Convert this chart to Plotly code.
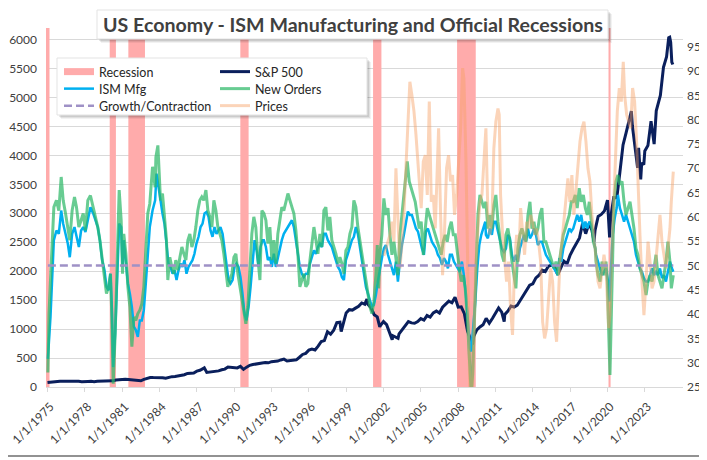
import pandas as pd
import plotly.graph_objects as go

# data (decimal years -> values)
rec_start = ['1974-11-01', '1980-01-01', '1981-07-01', '1990-07-01', '2001-03-01', '2007-12-01', '2020-02-01']
rec_end = ['1975-03-01', '1980-07-01', '1982-11-01', '1991-03-01', '2001-11-01', '2009-06-01', '2020-04-01']
growth_level = 50

sp_year = [1975.0, 1975.25, 1975.5, 1975.75, 1976.0, 1976.25, 1976.5, 1976.75, 1977.0, 1977.25, 1977.5, 1977.75,
           1978.0, 1978.25, 1978.5, 1978.75, 1979.0, 1979.25, 1979.5, 1979.75, 1980.0, 1980.25, 1980.5, 1980.75,
           1981.0, 1981.25, 1981.5, 1981.75, 1982.0, 1982.25, 1982.5, 1982.75, 1983.0, 1983.25, 1983.5, 1983.75,
           1984.0, 1984.25, 1984.5, 1984.75, 1985.0, 1985.25, 1985.5, 1985.75, 1986.0, 1986.25, 1986.5, 1986.75,
           1987.0, 1987.25, 1987.5, 1987.6, 1987.8, 1988.0, 1988.25, 1988.5, 1988.75, 1989.0, 1989.25, 1989.5, 1989.75,
           1990.0, 1990.25, 1990.5, 1990.75, 1991.0, 1991.25, 1991.5, 1991.75, 1992.0, 1992.25, 1992.5, 1992.75,
           1993.0, 1993.25, 1993.5, 1993.75, 1994.0, 1994.25, 1994.5, 1994.75, 1995.0, 1995.25, 1995.5, 1995.75,
           1996.0, 1996.25, 1996.5, 1996.75, 1997.0, 1997.25, 1997.5, 1997.75, 1998.0, 1998.25, 1998.5, 1998.6, 1998.75,
           1999.0, 1999.25, 1999.5, 1999.75, 2000.0, 2000.25, 2000.5, 2000.67, 2000.75, 2001.0, 2001.25, 2001.5, 2001.7, 2001.75,
           2002.0, 2002.25, 2002.5, 2002.7, 2002.75, 2003.0, 2003.17, 2003.25, 2003.5, 2003.75,
           2004.0, 2004.25, 2004.5, 2004.75, 2005.0, 2005.25, 2005.5, 2005.75, 2006.0, 2006.25, 2006.5, 2006.75,
           2007.0, 2007.25, 2007.5, 2007.75, 2008.0, 2008.25, 2008.5, 2008.75, 2009.0, 2009.15, 2009.25, 2009.5, 2009.75,
           2010.0, 2010.25, 2010.5, 2010.75, 2011.0, 2011.25, 2011.5, 2011.7, 2011.75, 2012.0, 2012.25, 2012.5, 2012.75,
           2013.0, 2013.25, 2013.5, 2013.75, 2014.0, 2014.25, 2014.5, 2014.75, 2015.0, 2015.25, 2015.5, 2015.75,
           2016.0, 2016.25, 2016.5, 2016.75, 2017.0, 2017.25, 2017.5, 2017.75, 2018.0, 2018.25, 2018.5, 2018.75, 2018.92,
           2019.0, 2019.25, 2019.5, 2019.75, 2020.0, 2020.17, 2020.25, 2020.5, 2020.75,
           2021.0, 2021.25, 2021.5, 2021.75, 2021.92, 2022.0, 2022.25, 2022.42, 2022.5, 2022.67, 2022.75, 2022.92,
           2023.0, 2023.25, 2023.5, 2023.75, 2023.92, 2024.0, 2024.25, 2024.5, 2024.75, 2024.92,
           2025.0, 2025.08, 2025.17, 2025.25]
sp_val = [77, 85, 89, 89, 101, 101, 103, 102, 102, 98, 99, 92,
          89, 97, 100, 93, 100, 101, 103, 101, 114, 106, 121, 127,
          130, 132, 131, 122, 120, 116, 107, 133, 145, 164, 162, 163,
          163, 160, 150, 166, 179, 180, 190, 189, 212, 235, 236, 243,
          274, 288, 318, 330, 252, 257, 261, 272, 278, 297, 309, 346, 340,
          329, 330, 356, 304, 343, 375, 387, 392, 409, 414, 424, 418,
          438, 440, 448, 467, 481, 450, 458, 472, 470, 514, 562, 581,
          636, 654, 639, 705, 786, 801, 954, 914, 980, 1111, 1120, 957, 1098,
          1279, 1335, 1328, 1362, 1394, 1452, 1430, 1517, 1429, 1366, 1249, 1211, 1040, 1059,
          1130, 1077, 912, 815, 885, 856, 841, 916, 990, 1050,
          1131, 1107, 1101, 1130, 1181, 1156, 1234, 1207, 1280, 1311, 1277, 1378,
          1438, 1482, 1455, 1549, 1378, 1385, 1267, 968, 826, 735, 873, 987, 1036,
          1074, 1187, 1102, 1183, 1286, 1364, 1292, 1131, 1253, 1312, 1398, 1379, 1412,
          1498, 1598, 1686, 1757, 1783, 1884, 1931, 2018, 1995, 2086, 2104, 2079,
          1940, 2065, 2174, 2126, 2279, 2384, 2470, 2575, 2824, 2648, 2816, 2711, 2507,
          2704, 2946, 2980, 3038, 3226, 2585, 2912, 3271, 3270,
          3714, 4181, 4395, 4605, 4766, 4516, 4132, 3785, 4130, 3586, 3872, 3840,
          4077, 4169, 4589, 4194, 4770, 4846, 5036, 5522, 5705, 6032,
          6040, 5955, 5612, 5569]

ism_year = [1975.03, 1975.24, 1975.51, 1975.72, 1975.91, 1976.10, 1976.26, 1976.45, 1976.63, 1976.79, 1976.98,
            1977.17, 1977.33, 1977.52, 1977.70, 1977.87, 1978.05, 1978.24, 1978.45, 1978.67, 1978.86, 1979.04,
            1979.21, 1979.39, 1979.58, 1979.74, 1979.90, 1980.06, 1980.17, 1980.28, 1980.44, 1980.60, 1980.76,
            1980.92, 1981.03, 1981.13, 1981.30, 1981.46, 1981.62, 1981.78, 1981.94, 1982.10, 1982.26, 1982.42,
            1982.58, 1982.74, 1982.90, 1983.06, 1983.22, 1983.44, 1983.65,
            1983.76, 1983.92, 1984.08, 1984.24, 1984.40, 1984.56, 1984.72, 1984.88, 1985.05, 1985.21, 1985.37,
            1985.53, 1985.69, 1985.85, 1986.01, 1986.17, 1986.33, 1986.49, 1986.65, 1986.81, 1986.97, 1987.14,
            1987.30, 1987.46, 1987.62, 1987.78, 1987.94, 1988.10, 1988.26, 1988.42, 1988.58, 1988.74, 1988.90,
            1989.07, 1989.23, 1989.39, 1989.55, 1989.71, 1989.87, 1990.03, 1990.19, 1990.35, 1990.51, 1990.67,
            1990.83, 1990.99, 1991.16, 1991.32, 1991.48, 1991.64, 1991.80, 1991.96, 1992.12, 1992.28,
            1992.39, 1992.55, 1992.71, 1992.87, 1993.03, 1993.19, 1993.35, 1993.51, 1993.67, 1993.83, 1993.99,
            1994.16, 1994.32, 1994.48, 1994.64, 1994.80, 1994.96, 1995.12, 1995.28, 1995.44, 1995.60, 1995.76,
            1995.92, 1996.09, 1996.25, 1996.41, 1996.57, 1996.73, 1996.89, 1997.05, 1997.21, 1997.37, 1997.53,
            1997.69, 1997.85, 1998.01, 1998.18, 1998.34, 1998.50, 1998.66, 1998.82, 1998.98, 1999.14, 1999.30,
            1999.46, 1999.62, 1999.78, 1999.94, 2000.10, 2000.26, 2000.43, 2000.59, 2000.75, 2000.91, 2001.07,
            2001.23, 2001.39, 2001.55, 2001.71, 2001.87, 2002.03, 2002.19, 2002.36, 2002.52, 2002.68, 2002.84,
            2003.00, 2003.16, 2003.32, 2003.48, 2003.64, 2003.80, 2003.96, 2004.12, 2004.28, 2004.45, 2004.61,
            2004.77, 2004.93, 2005.09, 2005.25, 2005.41, 2005.57, 2005.73, 2005.89, 2006.05, 2006.21, 2006.37,
            2006.54, 2006.70, 2006.86, 2007.02, 2007.18, 2007.34, 2007.50, 2007.66, 2007.82, 2007.98, 2008.14,
            2008.30, 2008.46, 2008.63, 2008.79, 2008.95, 2009.05, 2009.21, 2009.38, 2009.54, 2009.70, 2009.86,
            2010.02, 2010.18,
            2010.23, 2010.39, 2010.55, 2010.71, 2010.87, 2011.03, 2011.20, 2011.36, 2011.52, 2011.68, 2011.84,
            2012.00, 2012.16, 2012.32, 2012.48, 2012.64, 2012.80, 2012.96, 2013.12, 2013.29, 2013.45, 2013.61,
            2013.77, 2013.93, 2014.09, 2014.25, 2014.41, 2014.57, 2014.73, 2014.89, 2015.05, 2015.21, 2015.38,
            2015.54, 2015.70, 2015.86, 2016.02, 2016.13, 2016.29, 2016.45, 2016.61, 2016.77, 2016.93, 2017.09,
            2017.25, 2017.41, 2017.57, 2017.73, 2017.89, 2018.06, 2018.22, 2018.38, 2018.54, 2018.70, 2018.86,
            2019.08, 2019.24, 2019.40, 2019.56, 2019.72, 2019.88, 2020.04, 2020.15, 2020.25, 2020.42, 2020.58,
            2020.74, 2020.84, 2021.00, 2021.17, 2021.33, 2021.49, 2021.65, 2021.81, 2021.97, 2022.13, 2022.29,
            2022.45, 2022.61, 2022.77, 2022.93, 2023.10, 2023.26, 2023.42, 2023.58, 2023.74, 2023.90, 2024.06,
            2024.22, 2024.38, 2024.54, 2024.70, 2024.86, 2025.02, 2025.19, 2025.29]
ism_val = [30.8, 39.4, 55.2, 57.2, 56.5, 61.3, 58.6, 56.5, 54.5, 51.7, 56.5,
           57.9, 55.9, 53.8, 57.2, 57.9, 56.9, 59.3, 62.0, 60.7, 59.3, 57.9,
           55.2, 51.1, 49.0, 45.6, 44.9, 48.3, 41.5, 29.1, 36.0, 49.7, 58.6,
           57.9, 49.7, 55.2, 51.1, 46.3, 44.2, 41.5, 37.4, 36.7, 35.3, 38.7,
           38.7, 40.8, 46.3, 52.4, 57.9, 61.3, 63.4,
           68.9, 66.2, 62.7, 60.7, 58.6, 53.8, 50.4, 49.7, 48.3, 49.0, 47.0,
           49.0, 50.4, 49.7, 51.1, 48.3, 49.7, 50.4, 51.1, 52.4, 54.5, 55.9,
           57.9, 58.6, 60.7, 61.0, 60.0, 57.2, 55.9, 57.9, 56.5, 57.2, 57.9,
           56.5, 53.1, 50.4, 47.0, 46.3, 47.0, 49.7, 50.4, 49.7, 47.6, 44.2,
           40.1, 38.7, 41.5, 45.6, 51.1, 55.2, 53.1, 49.7, 53.8, 55.2,
           55.2, 53.8, 51.1, 51.7, 49.7, 52.4, 49.7, 51.7, 53.8, 55.2, 56.5,
           57.2, 57.9, 58.6, 59.3, 57.9, 55.2, 51.7, 49.7, 48.3, 47.6, 48.3,
           48.3, 50.4, 51.7, 53.1, 52.4, 53.8, 54.5, 53.8, 56.5, 56.5, 55.2,
           54.5, 53.8, 52.4, 51.1, 49.7, 49.0, 47.6, 47.0, 51.1, 52.4, 53.8,
           55.2, 55.9, 57.9, 56.5, 53.8, 51.1, 48.3, 45.6, 44.2, 42.8, 41.5,
           41.9, 43.9, 46.7, 49.4, 51.5, 53.5, 54.2, 52.2, 50.8, 49.4, 48.0,
           50.8, 46.7, 50.8, 54.2, 56.3, 59.0, 61.1, 60.4, 60.4, 59.0, 57.6,
           57.0, 54.9, 53.5, 52.2, 57.0, 57.6, 56.3, 54.9, 54.2, 53.5, 52.2,
           51.5, 50.1, 51.5, 50.8, 49.4, 52.2, 52.2, 50.8, 50.1, 49.4, 48.7,
           50.8, 48.0, 43.9, 38.4, 33.0, 32.3, 37.1, 42.6, 49.4, 54.2, 56.3,
           57.6, 59.0,
           56.3, 55.6, 57.6, 56.3, 59.0, 59.0, 57.0, 54.9, 53.5, 52.8, 53.5,
           56.3, 55.6, 52.2, 50.8, 52.2, 50.8, 53.5, 54.9, 56.3, 54.9, 57.6,
           55.6, 56.3, 57.6, 56.3, 54.2, 54.9, 54.9, 53.5, 52.2, 51.5, 50.8,
           50.1, 49.4, 48.7, 48.0, 51.5, 50.8, 53.5, 54.9, 56.3, 57.6, 57.0,
           57.6, 59.0, 60.4, 59.0, 60.4, 57.6, 59.0, 57.6, 59.0, 58.3, 56.3,
           52.2, 50.8, 49.4, 48.0, 48.7, 49.4, 46.7, 42.6, 48.0, 56.3, 59.7,
           61.8, 64.5, 61.8, 60.4, 59.0, 60.4, 59.0, 57.6, 56.3, 54.9, 52.2,
           50.8, 49.4, 48.7, 47.4, 46.7, 46.7, 48.0, 49.4, 48.0, 48.7, 48.0,
           49.4, 47.4, 48.0, 46.7, 48.7, 50.8, 49.4, 48.7]

orders_year = [1975.03, 1975.12, 1975.24, 1975.51, 1975.72, 1975.91, 1976.10, 1976.26, 1976.45, 1976.63, 1976.79,
               1976.98, 1977.17, 1977.33, 1977.52, 1977.70, 1977.87, 1978.05, 1978.24, 1978.45, 1978.67, 1978.86,
               1979.04, 1979.21, 1979.39, 1979.58, 1979.74, 1979.90, 1980.06, 1980.17, 1980.28, 1980.44, 1980.60,
               1980.76, 1980.92, 1981.03, 1981.13, 1981.30, 1981.46, 1981.62, 1981.78, 1981.94, 1982.10, 1982.26,
               1982.42, 1982.58, 1982.74, 1982.90, 1983.06, 1983.22, 1983.44, 1983.65,
               1983.71, 1983.87, 1983.97, 1984.08, 1984.24, 1984.40, 1984.56, 1984.67, 1984.83, 1984.99, 1985.15,
               1985.31, 1985.47, 1985.64, 1985.80, 1985.96, 1986.12, 1986.28, 1986.44, 1986.60, 1986.76, 1986.92,
               1987.08, 1987.24, 1987.40, 1987.56, 1987.73, 1987.89, 1988.05, 1988.21, 1988.37, 1988.53, 1988.69,
               1988.85, 1989.01, 1989.17, 1989.33, 1989.49, 1989.65, 1989.82, 1989.98, 1990.14, 1990.30, 1990.46,
               1990.62, 1990.78, 1990.94, 1991.10, 1991.26, 1991.42, 1991.58, 1991.74, 1991.90, 1992.07, 1992.23,
               1992.39, 1992.55, 1992.71, 1992.87, 1993.03, 1993.19, 1993.35, 1993.51, 1993.67, 1993.83, 1993.99,
               1994.16, 1994.32, 1994.48, 1994.64, 1994.80, 1994.96, 1995.12, 1995.28, 1995.44, 1995.60, 1995.76,
               1995.92, 1996.09, 1996.25, 1996.41, 1996.57, 1996.73, 1996.89, 1997.05, 1997.21, 1997.37, 1997.53,
               1997.69, 1997.85, 1998.01, 1998.18, 1998.34, 1998.50, 1998.66, 1998.82, 1998.98, 1999.14, 1999.30,
               1999.46, 1999.62, 1999.78, 1999.94, 2000.10, 2000.26, 2000.43, 2000.59, 2000.75, 2000.91, 2001.07,
               2001.23, 2001.39, 2001.50, 2001.61, 2001.71, 2001.87, 2002.03, 2002.19, 2002.36, 2002.52, 2002.68,
               2002.84, 2003.00, 2003.16, 2003.32, 2003.48, 2003.64, 2003.80, 2003.91, 2004.07, 2004.23, 2004.39,
               2004.55, 2004.71, 2004.87, 2005.03, 2005.20, 2005.36, 2005.52, 2005.68, 2005.84, 2006.00, 2006.16,
               2006.32, 2006.48, 2006.64, 2006.80, 2006.96, 2007.12, 2007.29, 2007.45, 2007.61, 2007.77, 2007.93,
               2008.09, 2008.25, 2008.41, 2008.57, 2008.73, 2008.89, 2009.05, 2009.16, 2009.27, 2009.43, 2009.59,
               2009.75, 2009.91, 2010.07, 2010.23,
               2010.39, 2010.55, 2010.71, 2010.87, 2011.03, 2011.20, 2011.36, 2011.52, 2011.68, 2011.84, 2012.00,
               2012.16, 2012.32, 2012.48, 2012.64, 2012.80, 2012.96, 2013.12, 2013.29, 2013.45, 2013.61, 2013.77,
               2013.93, 2014.09, 2014.25, 2014.41, 2014.57, 2014.73, 2014.89, 2015.05, 2015.21, 2015.38, 2015.54,
               2015.70, 2015.86, 2016.02, 2016.13, 2016.29, 2016.45, 2016.61, 2016.77, 2016.93, 2017.09, 2017.25,
               2017.41, 2017.57, 2017.73, 2017.89, 2018.06, 2018.22, 2018.38, 2018.54, 2018.70, 2018.86, 2019.02,
               2019.08, 2019.24, 2019.40, 2019.56, 2019.72, 2019.88, 2019.99, 2020.09, 2020.20, 2020.31, 2020.42,
               2020.52, 2020.68, 2020.84, 2021.00, 2021.17, 2021.33, 2021.49, 2021.65, 2021.81, 2021.97, 2022.13,
               2022.29, 2022.45, 2022.61, 2022.77, 2022.93, 2023.10, 2023.26, 2023.42, 2023.58, 2023.74, 2023.90,
               2024.06, 2024.22, 2024.38, 2024.54, 2024.70, 2024.86, 2025.02, 2025.13, 2025.29]
orders_val = [28.0, 40.0, 47.0, 62.0, 63.4, 61.3, 68.2, 63.4, 60.7, 57.2, 55.2,
              61.3, 64.1, 62.0, 57.9, 59.3, 60.7, 57.2, 63.4, 64.4, 62.0, 59.3,
              57.9, 55.2, 51.7, 47.0, 44.2, 45.6, 48.3, 39.4, 25.7, 36.0, 53.2,
              65.5, 59.3, 48.3, 56.5, 52.4, 45.6, 41.5, 33.3, 39.4, 38.7, 40.1,
              40.8, 42.1, 45.6, 52.4, 60.7, 62.7, 70.3, 66.1,
              72.3, 74.7, 70.3, 63.4, 64.8, 59.3, 55.2, 47.0, 51.7, 49.7, 48.3,
              51.1, 49.0, 51.7, 53.8, 52.4, 51.1, 55.2, 56.5, 53.8, 55.2, 57.9,
              61.3, 63.4, 64.1, 63.4, 65.5, 61.3, 60.0, 57.9, 63.4, 61.3, 57.9,
              56.5, 55.2, 52.4, 48.3, 45.6, 47.0, 48.3, 51.7, 52.4, 48.3, 45.6,
              42.8, 40.1, 38.0, 41.5, 48.3, 56.5, 60.0, 57.9, 51.7, 47.0, 61.3,
              60.7, 59.3, 54.5, 57.9, 51.1, 55.2, 50.4, 56.5, 59.3, 62.0, 61.3,
              63.4, 64.8, 63.4, 62.0, 60.7, 57.2, 52.4, 45.6, 47.0, 48.3, 45.6,
              46.3, 51.1, 55.2, 57.9, 55.2, 52.4, 56.5, 53.8, 61.3, 62.0, 57.2,
              60.0, 55.2, 53.8, 52.4, 50.4, 51.7, 50.4, 48.3, 53.1, 53.8, 56.5,
              57.9, 63.4, 62.0, 57.9, 55.2, 52.4, 49.7, 47.0, 44.2, 41.5, 40.1,
              42.6, 48.0, 54.2, 45.3, 52.2, 56.3, 63.8, 60.4, 61.8, 56.3, 52.2,
              54.9, 50.8, 48.0, 56.3, 60.4, 65.9, 70.0, 71.4, 67.3, 65.9, 64.5,
              63.1, 60.4, 57.6, 59.0, 52.2, 57.6, 61.8, 60.4, 59.0, 57.6, 56.3,
              54.9, 53.5, 52.2, 54.9, 56.3, 54.9, 57.6, 59.0, 56.3, 56.3, 52.2,
              49.4, 46.7, 48.0, 45.3, 39.8, 31.6, 23.5, 27.5, 37.1, 49.4, 60.4,
              64.5, 63.1, 61.8, 63.1,
              57.6, 60.4, 57.6, 62.4, 64.5, 59.0, 54.9, 52.2, 50.8, 56.3, 57.6,
              54.9, 50.8, 48.0, 45.3, 53.5, 56.3, 57.6, 56.3, 54.9, 60.4, 63.1,
              57.6, 59.0, 56.3, 57.6, 60.4, 61.8, 54.9, 54.9, 53.5, 52.2, 50.8,
              49.4, 50.8, 48.0, 50.8, 53.5, 56.3, 57.6, 59.0, 60.4, 63.1, 63.1,
              64.5, 61.8, 65.9, 63.1, 64.5, 61.8, 60.4, 63.1, 59.0, 54.9, 53.5,
              50.8, 48.0, 46.7, 50.8, 48.0, 50.8, 46.7, 37.1, 27.5, 39.8, 52.2,
              63.1, 67.3, 68.6, 66.6, 67.3, 63.1, 60.4, 61.8, 63.1, 60.4, 57.6,
              53.5, 52.2, 49.4, 48.0, 46.7, 43.9, 46.7, 48.0, 46.7, 49.4, 52.2,
              48.0, 46.7, 45.3, 48.0, 50.8, 54.9, 50.8, 45.3, 48.0]

prices_year = [2002.03, 2002.19, 2002.52, 2002.68, 2002.84, 2003.00, 2003.16, 2003.32, 2003.48, 2003.64, 2003.80,
               2003.96, 2004.12, 2004.28, 2004.45, 2004.61, 2004.77, 2004.93, 2005.03, 2005.20, 2005.36, 2005.52,
               2005.68, 2005.84, 2006.00, 2006.16, 2006.32, 2006.43, 2006.59, 2006.75, 2006.91, 2007.07, 2007.23,
               2007.39, 2007.55, 2007.71, 2007.88, 2008.04, 2008.20, 2008.36, 2008.46, 2008.63, 2008.79, 2008.95,
               2009.11, 2009.27, 2009.43, 2009.59, 2009.75, 2009.91, 2010.07, 2010.23,
               2010.39, 2010.55, 2010.71, 2010.87, 2011.03, 2011.20, 2011.30, 2011.41, 2011.57, 2011.73, 2011.89,
               2012.05, 2012.21, 2012.37, 2012.54, 2012.70, 2012.86, 2013.02, 2013.18, 2013.34, 2013.50, 2013.66,
               2013.82, 2013.98, 2014.14, 2014.30, 2014.46, 2014.63, 2014.79, 2014.95, 2015.11, 2015.27, 2015.43,
               2015.59, 2015.75, 2015.91, 2016.02, 2016.18, 2016.34, 2016.50, 2016.66, 2016.82, 2016.98, 2017.14,
               2017.30, 2017.47, 2017.63, 2017.79, 2017.95, 2018.11, 2018.27, 2018.43, 2018.59, 2018.75, 2018.91,
               2019.08, 2019.24, 2019.40, 2019.56, 2019.72, 2019.88, 2019.99, 2020.09, 2020.20, 2020.31, 2020.47,
               2020.63, 2020.79, 2020.95, 2021.11, 2021.27, 2021.38, 2021.54, 2021.70, 2021.86, 2022.02, 2022.18,
               2022.34, 2022.45, 2022.61, 2022.77, 2022.93, 2023.10, 2023.26, 2023.42, 2023.58, 2023.74, 2023.90,
               2024.06, 2024.22, 2024.38, 2024.54, 2024.70, 2024.86, 2025.02, 2025.13, 2025.29]
prices_val = [52.0, 53.5, 56.3, 59.0, 54.9, 70.0, 57.6, 49.4, 54.2, 60.4, 70.0,
              79.6, 87.8, 85.1, 81.7, 76.9, 71.4, 65.9, 61.8, 71.4, 72.7, 64.5,
              83.7, 63.1, 64.5, 57.6, 70.0, 78.2, 60.4, 48.0, 57.6, 70.0, 72.7,
              67.3, 68.6, 60.4, 64.5, 71.4, 78.2, 90.6, 88.5, 71.4, 43.9, 22.0,
              22.0, 37.1, 50.8, 57.6, 63.1, 64.5, 72.7, 78.2,
              60.4, 56.3, 59.0, 74.1, 79.6, 82.3, 81.0, 64.5, 56.3, 50.8, 46.7,
              50.8, 41.2, 35.7, 50.8, 56.3, 50.8, 61.8, 57.6, 52.2, 59.0, 57.6,
              60.4, 59.0, 56.3, 57.6, 54.9, 50.8, 38.4, 35.0, 37.1, 43.9, 49.4,
              46.7, 38.4, 34.3, 39.8, 50.8, 54.9, 59.0, 64.5, 67.9, 63.1, 68.6,
              60.4, 65.9, 71.4, 75.5, 78.2, 79.6, 75.5, 70.0, 67.3, 60.4, 56.3,
              50.8, 46.7, 45.3, 49.4, 52.2, 49.4, 43.9, 37.1, 39.8, 50.8, 60.4,
              71.4, 81.7, 86.5, 83.7, 91.9, 85.1, 81.0, 79.6, 78.2, 86.5, 83.7,
              75.5, 65.9, 56.3, 46.7, 39.8, 46.7, 54.9, 50.8, 45.3, 46.7, 50.8,
              56.3, 60.4, 54.9, 52.2, 49.4, 53.5, 57.6, 63.1, 69.3]

tick_years = list(range(1975, 2024, 3))


def to_dates(years):
    base = pd.Timestamp('1975-01-01')
    return [base + pd.Timedelta(days=(y - 1975) * 365.25) for y in years]


# layout in screenshot pixels; the page body adds an 8px offset
OFF = 8
SW, SH = 707, 460
PL, PR, PT, PB = 46, 683, 28, 387


def px(x):
    return (x - PL) / (PR - PL)


def py(y):
    return (PB - y) / (PB - PT)


left_max = 6200
right_range = [25, 98.85]

rec_color = '#ffabab'
sp_color = '#0a1f5c'
ism_color = '#00b0f0'
orders_color = 'rgba(46,184,104,0.72)'
prices_color = 'rgba(247,160,100,0.45)'
growth_color = '#9f91c6'

rs = pd.to_datetime(rec_start)
re_ = pd.to_datetime(rec_end)
rec_mid = rs + (re_ - rs) / 2
rec_w = [(b - a).total_seconds() * 1000 for a, b in zip(rs, re_)]

ism_dates = to_dates(ism_year)

fig = go.Figure()

fig.add_trace(go.Bar(x=rec_mid, y=[left_max] * len(rec_mid), width=rec_w, marker=dict(color=rec_color, line=dict(width=0)),
                     showlegend=False, hoverinfo='skip', yaxis='y'))
fig.add_trace(go.Scatter(x=[None], y=[None], mode='lines', line=dict(color=rec_color, width=7), name='Recession',
                         legend='legend'))
fig.add_trace(go.Scatter(x=to_dates(sp_year), y=sp_val, mode='lines', line=dict(color=sp_color, width=3),
                         name='S&P 500', yaxis='y', legend='legend2'))
fig.add_trace(go.Scatter(x=ism_dates, y=ism_val, mode='lines', line=dict(color=ism_color, width=2.5),
                         name='ISM Mfg', yaxis='y2', legend='legend3'))
fig.add_trace(go.Scatter(x=to_dates(orders_year), y=orders_val, mode='lines', line=dict(color=orders_color, width=3),
                         name='New Orders', yaxis='y2', legend='legend4'))
fig.add_trace(go.Scatter(x=to_dates(prices_year), y=prices_val, mode='lines', line=dict(color=prices_color, width=3),
                         name='Prices', yaxis='y2', legend='legend6'))
fig.add_trace(go.Scatter(x=[ism_dates[0], ism_dates[-1]], y=[growth_level, growth_level], mode='lines',
                         line=dict(color=growth_color, width=2.5, dash='8px,4px'),
                         name='Growth/Contraction', yaxis='y2', legend='legend5'))

tick_font = dict(family='Lato, Calibri, sans-serif', size=12, color='#404040')
leg_font = dict(family='Lato, Calibri, sans-serif', size=12.5, color='#262626')

fig.update_layout(
    width=SW - OFF, height=SH - OFF,
    margin=dict(l=PL - OFF, r=SW - PR, t=PT - OFF, b=SH - PB, autoexpand=False),
    paper_bgcolor='white', plot_bgcolor='white',
    barmode='overlay',
    xaxis=dict(type='date', range=['1974-11-18', '2026-01-26'], automargin=False, ticklabeloverflow='allow',
               tickvals=[pd.Timestamp(f'{y}-01-01') for y in tick_years], tickformat='%-m/%-d/%Y',
               tickangle=-45, tickfont=tick_font, showgrid=False, zeroline=False, ticklabelshift=3,
               ticklabelstandoff=3,
               showline=True, linecolor='#d9d9d9', linewidth=1, ticks='outside', ticklen=4, tickcolor='#d9d9d9'),
    yaxis=dict(range=[0, left_max], tick0=0, dtick=500, tickfont=tick_font, showgrid=True, gridcolor='#d9d9d9',
               gridwidth=1, zeroline=False, showline=False, ticklabelstandoff=8, automargin=False,
               ticklabeloverflow='allow'),
    yaxis2=dict(range=right_range, overlaying='y', side='right', tickvals=list(range(25, 96, 5)), tickfont=tick_font,
                showgrid=False, zeroline=False, showline=False, automargin=False, ticklabeloverflow='allow',
                ticklabelstandoff=3),
)

# one legend per entry so the two-column grid can be placed exactly
leg_pos = {'legend': (59, 57), 'legend2': (215, 57), 'legend3': (59, 74),
           'legend4': (215, 74), 'legend5': (59, 91), 'legend6': (215, 91)}
for name, (lx, ly) in leg_pos.items():
    fig.update_layout({name: dict(x=px(lx), y=py(ly), xanchor='left', yanchor='top', bgcolor='rgba(0,0,0,0)',
                                  font=leg_font, borderwidth=0)})

shapes = []


def box(x0, y0, x1, y1):
    for k, a in [(4, 0.05), (3, 0.07), (2, 0.09)]:
        shapes.append(dict(type='rect', xref='paper', yref='paper', layer='above',
                           x0=px(x0 + k), x1=px(x1 + k), y0=py(y1 + k), y1=py(y0 + k),
                           fillcolor=f'rgba(0,0,0,{a})', line=dict(width=0)))
    shapes.append(dict(type='rect', xref='paper', yref='paper', layer='above',
                       x0=px(x0), x1=px(x1), y0=py(y1), y1=py(y0),
                       fillcolor='white', line=dict(color='#e3e3e3', width=1)))


box(57, 58, 367, 115)
box(97, 10, 608, 39)
# chart frame: only the right and bottom edges fall inside the figure
border = dict(color='#6e6e6e', width=1.5)
shapes.append(dict(type='line', xref='paper', yref='paper', layer='above',
                   x0=px(705), x1=px(705), y0=py(OFF), y1=py(456), line=border))
shapes.append(dict(type='line', xref='paper', yref='paper', layer='above',
                   x0=px(OFF), x1=px(705), y0=py(456), y1=py(456), line=border))
fig.update_layout(shapes=shapes)

fig.add_annotation(text='US Economy - ISM Manufacturing and Official Recessions', xref='paper', yref='paper',
                   x=px(352.5), y=py(24.5), xanchor='center', yanchor='middle', showarrow=False,
                   font=dict(family='Lato, Calibri, sans-serif', size=19.6, color='#404040', weight='bold'))

fig.write_html('out.html')
